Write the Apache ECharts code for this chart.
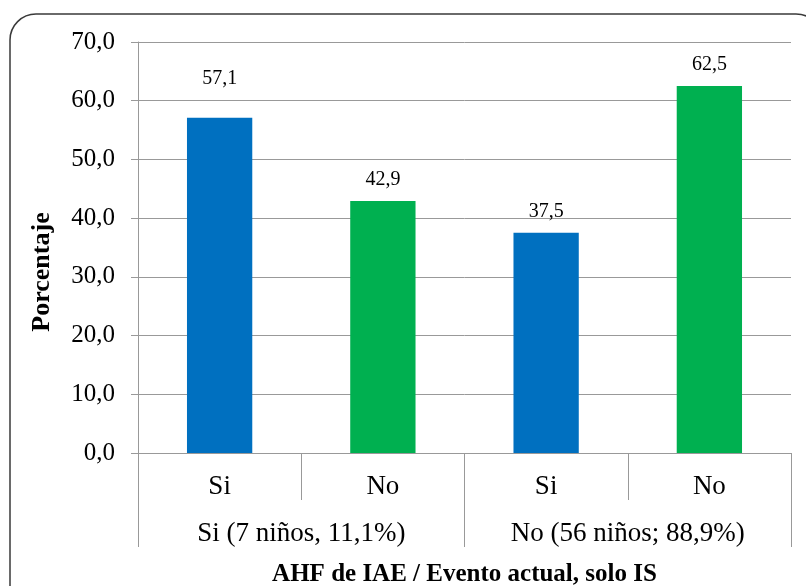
<!DOCTYPE html>
<html>
<head>
<meta charset="utf-8">
<script src="https://cdn.jsdelivr.net/npm/echarts@6/dist/echarts.min.js"></script>
<style>
  html, body { margin: 0; padding: 0; background: #fff; }
  #chart { width: 806px; height: 586px; }
</style>
</head>
<body>
<div id="chart"></div>
<script>
// Inner categories (Evento actual) and outer groups (AHF de IAE)
const innerCategories = ['Si', 'No', 'Si', 'No'];
const outerGroups = ['Si (7 niños, 11,1%)', 'No (56 niños; 88,9%)'];
// Percentages per bar
const values = [57.1, 42.9, 37.5, 62.5];
const barColors = ['#0070C0', '#00B050', '#0070C0', '#00B050'];
// Gap between bar top and its value label (first one sits higher)
const labelDistances = [29, 11, 11, 11];

const FONT = "'Liberation Serif', 'Times New Roman', serif";
const fmt = v => v.toFixed(1).replace('.', ',');

const chart = echarts.init(document.getElementById('chart'), null, { renderer: 'canvas' });

const barData = values.map((v, i) => ({
  value: v,
  itemStyle: { color: barColors[i] },
  label: { distance: labelDistances[i] }
}));

chart.setOption({
  animation: false,
  backgroundColor: '#ffffff',
  graphic: [{
    type: 'rect',
    shape: { x: 10, y: 14, width: 812, height: 620, r: 26 },
    style: { fill: 'none', stroke: '#3a3a3a', lineWidth: 1.5 },
    silent: true,
    z: -1
  }, {
    type: 'text',
    x: 42,
    y: 272,
    rotation: Math.PI / 2,
    style: {
      text: 'Porcentaje',
      font: "bold 26px 'Liberation Serif', 'Times New Roman', serif",
      fill: '#000',
      align: 'center',
      verticalAlign: 'middle'
    },
    silent: true
  }],
  grid: { left: 138, right: 15, top: 42, bottom: 133, containLabel: false, outerBoundsMode: 'none' },
  xAxis: [{
    type: 'category',
    data: innerCategories,
    position: 'bottom',
    axisLine: { show: true, lineStyle: { color: '#999999', width: 1 } },
    axisTick: { show: true, alignWithLabel: false, length: 47, lineStyle: { color: '#999999' } },
    axisLabel: { fontFamily: FONT, fontSize: 27, color: '#000', margin: 20 },
    splitLine: { show: false }
  }, {
    type: 'category',
    data: outerGroups,
    position: 'bottom',
    axisLine: { show: false },
    axisTick: { show: true, alignWithLabel: false, length: 94, lineStyle: { color: '#999999' } },
    axisLabel: { fontFamily: FONT, fontSize: 27, color: '#000', margin: 67 },
    splitLine: { show: false },
    name: 'AHF de IAE / Evento actual, solo IS',
    nameLocation: 'middle',
    nameGap: 109,
    nameTextStyle: { fontFamily: FONT, fontSize: 25, fontWeight: 'bold', color: '#000' }
  }],
  yAxis: {
    type: 'value',
    min: 0,
    max: 70,
    interval: 10,
    axisLine: { show: true, lineStyle: { color: '#999999' } },
    axisTick: { show: true, length: 7, lineStyle: { color: '#999999' } },
    axisLabel: { fontFamily: FONT, fontSize: 25, color: '#000', margin: 23, formatter: fmt },
    splitLine: { show: true, lineStyle: { color: '#999999', width: 1 } }
  },
  series: [{
    type: 'bar',
    xAxisIndex: 0,
    data: barData,
    barWidth: '40%',
    label: {
      show: true,
      position: 'top',
      fontFamily: FONT,
      fontSize: 20,
      color: '#000',
      formatter: p => fmt(p.value)
    }
  }]
});
</script>
</body>
</html>
